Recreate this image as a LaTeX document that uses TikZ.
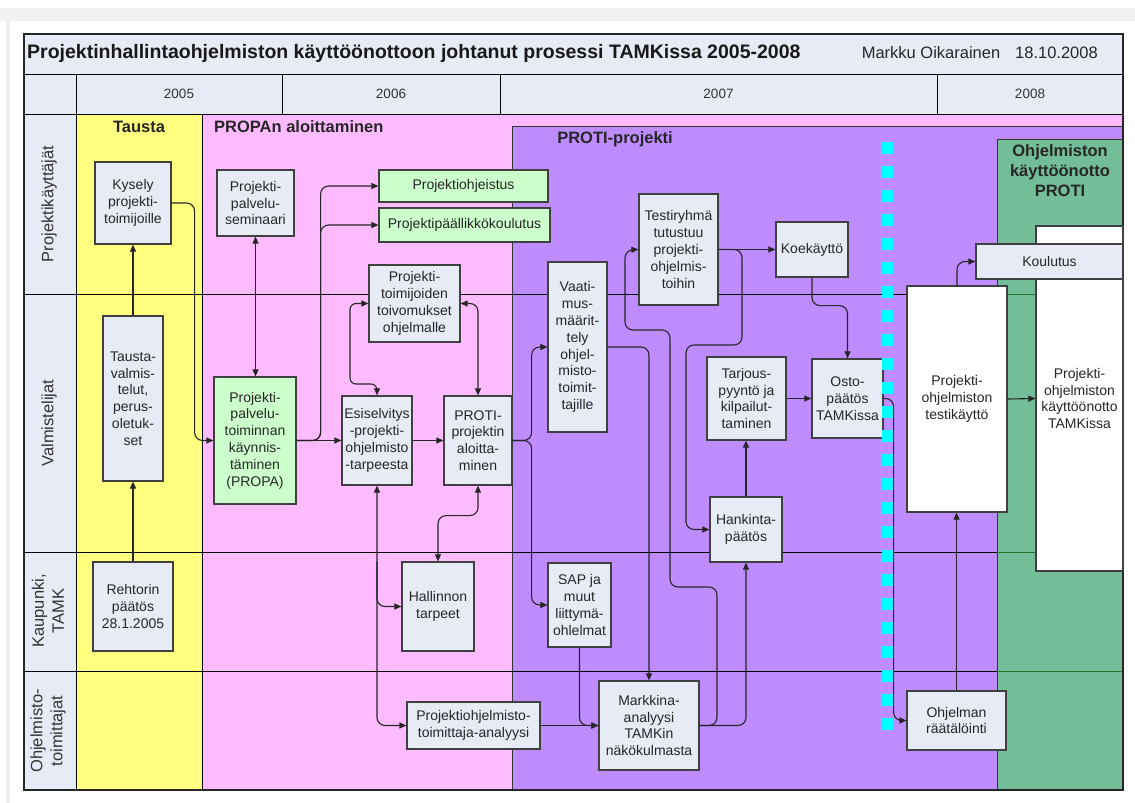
\documentclass[tikz,border=0pt]{standalone}
\usepackage{fontspec}
\setmainfont{Liberation Sans}
\usetikzlibrary{arrows.meta}

\definecolor{pagegray}{RGB}{240,240,240}
\definecolor{boxfill}{RGB}{230,235,245}
\definecolor{greenfill}{RGB}{204,255,204}
\definecolor{taustayellow}{RGB}{255,255,128}
\definecolor{propapink}{RGB}{255,187,255}
\definecolor{protipurple}{RGB}{191,140,255}
\definecolor{otgreen}{RGB}{115,189,152}
\definecolor{lanegreen}{RGB}{30,120,40}
\definecolor{markcyan}{RGB}{0,255,255}

\begin{document}
\begin{tikzpicture}[x=1pt, y=-1pt,
    box/.style={draw=black!75, line width=1.2pt, fill=boxfill, align=center, inner sep=0pt,
        text=black!85, font=\fontsize{14}{16.8}\selectfont},
    greenbox/.style={box, fill=greenfill},
    whitebox/.style={box, fill=white},
    flow/.style={line width=1.1pt, draw=black!85, rounded corners=8pt, -{Triangle[length=7pt,width=6pt]}},
    flow2/.style={flow, {Triangle[length=7pt,width=6pt]}-{Triangle[length=7pt,width=6pt]}},
    lanetext/.style={rotate=90, align=center, text=black!80, font=\fontsize{16.5}{20}\selectfont},
    phasetext/.style={align=center, text=black!85, font=\fontsize{16.5}{20}\selectfont\bfseries},
    yeartext/.style={text=black!80, font=\fontsize{13.5}{16}\selectfont}]
    \useasboundingbox (0,0) rectangle (1135,803);
    % Page
    \fill[pagegray] (0,8) rectangle (1135,21);
    \fill[pagegray] (6,21) rectangle (10,803);
    % Header
    \draw[fill=boxfill, line width=1pt] (24,34) rectangle (1123,74);
    \draw[fill=boxfill, line width=1pt] (24,74) rectangle (76,114);
    \draw[fill=boxfill, line width=1pt] (76,74) rectangle (282,114);
    \draw[fill=boxfill, line width=1pt] (282,74) rectangle (500,114);
    \draw[fill=boxfill, line width=1pt] (500,74) rectangle (937,114);
    \draw[fill=boxfill, line width=1pt] (937,74) rectangle (1123,114);
    \node[anchor=west, inner sep=0pt, text=black!90, font=\fontsize{19.5}{22}\selectfont\bfseries] (title) at (27,53)
        {Projektinhallintaohjelmiston käyttöönottoon johtanut prosessi TAMKissa 2005-2008};
    \node[anchor=east, inner sep=0pt, text=black!85, font=\fontsize{16.5}{20}\selectfont] (author) at (1098,53)
        {Markku Oikarainen\hspace{15pt}18.10.2008};
    \node[yeartext] (y2005) at (179,94) {2005};
    \node[yeartext] (y2006) at (391,94) {2006};
    \node[yeartext] (y2007) at (718.5,94) {2007};
    \node[yeartext] (y2008) at (1030,94) {2008};
    % Lane labels
    \draw[fill=boxfill, line width=1pt] (24,114) rectangle (76,294);
    \draw[fill=boxfill, line width=1pt] (24,294) rectangle (76,552);
    \draw[fill=boxfill, line width=1pt] (24,552) rectangle (76,671);
    \draw[fill=boxfill, line width=1pt] (24,671) rectangle (76,790);
    \node[lanetext] (lKayttajat) at (49,204) {Projektikäyttäjät};
    \node[lanetext] (lValm) at (49,423) {Valmistelijat};
    \node[lanetext] (lKaup) at (48,611) {Kaupunki,\\TAMK};
    \node[lanetext] (lToim) at (48,731) {Ohjelmisto-\\toimittajat};
    % Phases
    \draw[fill=taustayellow, line width=0.8pt] (76,114) rectangle (202,790);
    \draw[fill=propapink, line width=0.8pt] (202,114) rectangle (1123,790);
    \draw[fill=protipurple, draw=black!80, line width=0.8pt] (512,126) rectangle (1123,790);
    \draw[fill=otgreen, draw=black!80, line width=0.8pt] (997,139) rectangle (1123,790);
    \node[phasetext] (tTausta) at (139,127) {Tausta};
    \node[phasetext, anchor=west, inner sep=0pt] (tPropa) at (214,127) {PROPAn aloittaminen};
    \node[phasetext] (tProti) at (615,139) {PROTI-projekti};
    \node[phasetext] (tKaytto) at (1060,171) {Ohjelmiston\\käyttöönotto\\PROTI};
    % Lanes
    \draw[line width=1pt] (24,294) -- (997,294);
    \draw[line width=1pt] (24,552) -- (997,552);
    \draw[line width=1pt] (24,671) -- (997,671);
    \draw[lanegreen, line width=1pt] (997,294) -- (1123,294);
    \draw[lanegreen, line width=1pt] (997,552) -- (1123,552);
    \draw[lanegreen, line width=1pt] (997,671) -- (1123,671);
    \draw[line width=1.3pt, draw=black!85] (24,34) rectangle (1123,790);

    % Steps
    \node[box, minimum width=76pt, minimum height=82pt] (kysely) at (133,203) {Kysely\\projekti-\\toimijoille};
    \node[box, minimum width=77pt, minimum height=66pt] (seminaari) at (255.5,203) {Projekti-\\palvelu-\\seminaari};
    \node[box, minimum width=60pt, minimum height=165pt] (taustaval) at (133,398.5) {Tausta-\\valmis-\\telut,\\perus-\\oletuk-\\set};
    \node[greenbox, minimum width=82pt, minimum height=127pt] (propa) at (255,440.5) {Projekti-\\palvelu-\\toiminnan\\käynnis-\\täminen\\(PROPA)};
    \node[box, minimum width=80pt, minimum height=89pt] (rehtori) at (133,606.5) {Rehtorin\\päätös\\28.1.2005};
    \node[greenbox, minimum width=169pt, minimum height=32pt] (ohjeistus) at (463.5,186) {Projektiohjeistus};
    \node[greenbox, minimum width=171pt, minimum height=34pt] (pjkoulutus) at (464.5,225) {Projektipäällikkökoulutus};
    \node[box, minimum width=91pt, minimum height=77pt] (toivomukset) at (414.5,303.5) {Projekti-\\toimijoiden\\toivomukset\\ohjelmalle};
    \node[box, minimum width=70pt, minimum height=89pt] (esiselvitys) at (377,440.5) {Esiselvitys\\-projekti-\\ohjelmisto\\-tarpeesta};
    \node[box, minimum width=68pt, minimum height=89pt] (proti) at (478,440.5) {PROTI-\\projektin\\aloitta-\\minen};
    \node[box, minimum width=72pt, minimum height=89pt] (hallinto) at (438,606.5) {Hallinnon\\tarpeet};
    \node[box, minimum width=133pt, minimum height=47pt] (toimanalyysi) at (473.5,725.5) {Projektiohjelmisto-\\toimittaja-analyysi};
    \node[box, minimum width=59pt, minimum height=170pt] (vaatimus) at (577.5,347) {Vaati-\\mus-\\määrit-\\tely\\ohjel-\\misto-\\toimit-\\tajille};
    \node[box, minimum width=63pt, minimum height=84pt] (sap) at (579.5,605) {SAP ja\\muut\\liittymä-\\ohlelmat};
    \node[box, minimum width=100pt, minimum height=89pt] (markkina) at (649,725.5) {Markkina-\\analyysi\\TAMKin\\näkökulmasta};
    \node[box, minimum width=79pt, minimum height=111pt] (testiryhma) at (678.5,249.5) {Testiryhmä\\tutustuu\\projekti-\\ohjelmis-\\toihin};
    \node[box, minimum width=72pt, minimum height=55pt] (koekaytto) at (812,249.5) {Koekäyttö};
    \node[box, minimum width=79pt, minimum height=83pt] (tarjous) at (746.5,398.5) {Tarjous-\\pyyntö ja\\kilpailut-\\taminen};
    \node[box, minimum width=71pt, minimum height=79pt] (osto) at (847.5,398.5) {Osto-\\päätös\\TAMKissa};
    \node[box, minimum width=72pt, minimum height=65pt] (hankinta) at (746,529.5) {Hankinta-\\päätös};
    \node[box, minimum width=99pt, minimum height=59pt] (raatalointi) at (956.5,720.5) {Ohjelman\\räätälöinti};
    \node[whitebox, minimum width=100pt, minimum height=226pt] (testikaytto) at (957,399) {Projekti-\\ohjelmiston\\testikäyttö};
    \node[whitebox, minimum width=87pt, minimum height=345pt] (kayttoonotto) at (1079.5,398.5) {Projekti-\\ohjelmiston\\käyttöönotto\\TAMKissa};
    \node[box, minimum width=147pt, minimum height=35pt] (koulutus) at (1049.5,261.5) {Koulutus};

    % Milestone line
    \draw[markcyan, line width=11pt, dash pattern=on 12pt off 12pt] (887.5,142) -- (887.5,731);

    % Flows
    \draw[flow] (rehtori.north) -- (taustaval.south);
    \draw[flow] (taustaval.north) -- (kysely.south);
    \draw[flow] (kysely.east) -- ++(23,0) |- (propa.west);
    \draw[flow2] (seminaari.south) -- (seminaari.south |- propa.north);
    \draw[flow] (propa.east) -- (esiselvitys.west);
    \draw[flow] (propa.east) -- ++(24,0) |- (ohjeistus.west);
    \draw[flow] (propa.east) -- ++(24,0) |- (pjkoulutus.west);
    \draw[flow] (esiselvitys.east) -- (proti.west);
    \draw[flow2, rounded corners=6pt] (toivomukset.west) -| (350,384) -| (esiselvitys.north);
    \draw[flow2] (toivomukset.east) -| (proti.north);
    \draw[flow2] (esiselvitys.south) |- (toimanalyysi.west);
    \draw[flow] (esiselvitys.south |- hallinto.north) |- (hallinto.west);
    \draw[flow2] (proti.south) -- ++(0,30) -| (hallinto.north);
    \draw[flow] (proti.east) -- ++(19,0) |- (vaatimus.west);
    \draw[flow] (proti.east) -- ++(19,0) |- (sap.west);
    \draw[flow] (vaatimus.east) -| (markkina.north);
    \draw[flow] (sap.south) |- (markkina.west);
    \draw[flow] (toimanalyysi.east) -- (markkina.west);
    \draw[flow] (markkina.east) -| (hankinta.south);
    \draw[flow] (markkina.east) -| (717,587) -| (670,330) -| (625,250) -- (testiryhma.west);
    \draw[flow] (testiryhma.east) -- (koekaytto.west);
    \draw[flow] (testiryhma.east) -| (742,345) -| (686,500) |- (hankinta.west);
    \draw[flow] (hankinta.north) -- (hankinta.north |- tarjous.south);
    \draw[flow] (tarjous.east) -- (osto.west);
    \draw[flow] (koekaytto.south) -- ++(0,28) -| (osto.north);
    \draw[flow] (osto.east) -- ++(10,0) |- (raatalointi.west);
    \draw[flow] (raatalointi.north) -- (raatalointi.north |- testikaytto.south);
    \draw[flow] (testikaytto.north) |- (koulutus.west);
    \draw[flow] (testikaytto.east) -- (kayttoonotto.west);
\end{tikzpicture}
\end{document}
